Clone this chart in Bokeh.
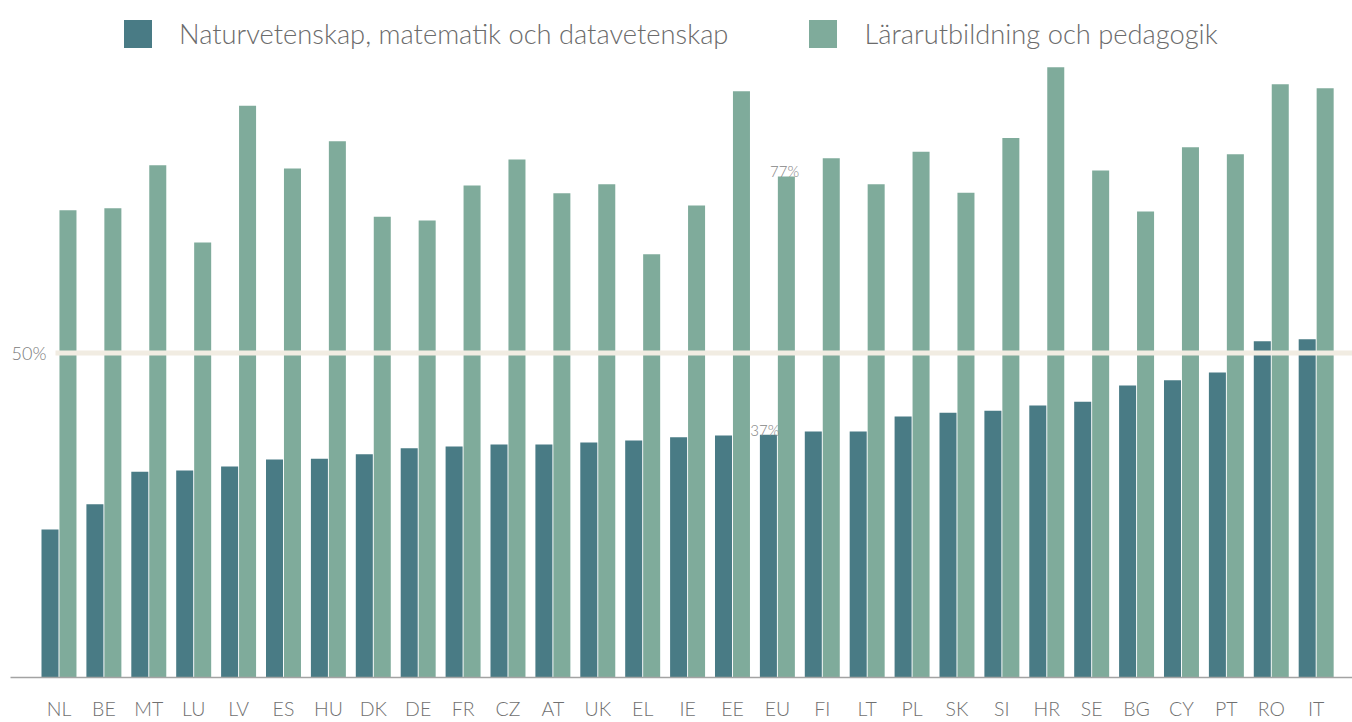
from bokeh.plotting import figure
from bokeh.models import ColumnDataSource, FixedTicker, Legend, LegendItem
from bokeh.core.properties import value
from bokeh.transform import dodge
from bokeh.embed import file_html
from bokeh.resources import INLINE

# ---- data ----
countries = ["NL", "BE", "MT", "LU", "LV", "ES", "HU", "DK", "DE", "FR", "CZ", "AT", "UK", "EL", "IE",
             "EE", "EU", "FI", "LT", "PL", "SK", "SI", "HR", "SE", "BG", "CY", "PT", "RO", "IT"]
science = [22.8, 26.7, 31.7, 31.9, 32.5, 33.6, 33.7, 34.4, 35.3, 35.6, 35.9, 35.9, 36.2, 36.5, 37.0,
           37.3, 37.4, 37.9, 37.9, 40.2, 40.8, 41.1, 41.9, 42.5, 45.0, 45.8, 47.0, 51.8, 52.1]
teacher = [72.0, 72.3, 78.9, 67.0, 88.1, 78.4, 82.6, 71.0, 70.4, 75.8, 79.8, 74.6, 76.0, 65.2, 72.7,
           90.3, 77.2, 80.0, 76.0, 81.0, 74.7, 83.1, 94.0, 78.1, 71.8, 81.7, 80.6, 91.4, 90.8]
series_names = ["Naturvetenskap, matematik och datavetenskap", "Lärarutbildning och pedagogik"]
reference_level = 50
reference_label = "50%"
highlight = "EU"

DARK = "#497b85"
LIGHT = "#7fab9b"
FONT = "Lato Light"

xs = list(range(len(countries)))
src = ColumnDataSource(dict(x=xs, science=science, teacher=teacher, country=countries))

x_start, x_end = -1.080, 28.809
p = figure(width=1352, height=722, output_backend="svg", toolbar_location=None,
           x_range=(x_start, x_end), y_range=(0, 104.3), y_axis_location=None,
           min_border_left=10, min_border_right=0, min_border_top=0, min_border_bottom=45)
p.outline_line_color = None
p.grid.visible = False
p.background_fill_color = "white"

bw = 0.379
r1 = p.vbar(x=dodge("x", -0.2, range=p.x_range), top="science", width=bw, source=src,
            fill_color=DARK, line_color=None)
r2 = p.vbar(x=dodge("x", 0.2, range=p.x_range), top="teacher", width=bw, source=src,
            fill_color=LIGHT, line_color=None)

# reference line (over the bars)
px_per_unit = (1352 - 10) / (x_end - x_start)
p.segment(x0=[x_start + 45 / px_per_unit], x1=[x_end], y0=[reference_level], y1=[reference_level],
          line_color="#f1ece2", line_width=5)
p.text(x=[x_start + 36 / px_per_unit], y=[reference_level], text=[reference_label],
       text_align="right", text_baseline="middle", text_color="#7a7a7a",
       text_font=value(FONT), text_font_size="18px")

# highlighted value labels
i = countries.index(highlight)
p.text(x=[i - 0.2 - 0.08, i + 0.2 - 0.04], y=[science[i], teacher[i]],
       text=[f"{round(science[i])}%", f"{round(teacher[i])}%"],
       text_align="center", text_baseline="alphabetic", y_offset=-5,
       text_color="#858585", text_font=value(FONT), text_font_size="15px")

# x axis
ax = p.xaxis[0]
ax.ticker = FixedTicker(ticks=xs)
ax.major_label_overrides = {k: c for k, c in zip(xs, countries)}
ax.major_tick_line_color = None
ax.minor_tick_line_color = None
ax.axis_line_color = "#a3a3a3"
ax.axis_line_width = 1.5
ax.major_label_standoff = 13
ax.major_label_text_font = FONT
ax.major_label_text_font_size = "19.5px"
ax.major_label_text_color = "#707070"

legend = Legend(items=[LegendItem(label=series_names[0], renderers=[r1]),
                       LegendItem(label=series_names[1], renderers=[r2])],
                orientation="horizontal", location=(110, 626),
                glyph_width=35, glyph_height=35, label_standoff=24, spacing=77,
                padding=0, margin=0, border_line_color=None, background_fill_alpha=0,
                label_text_font=FONT, label_text_font_size="27.3px", label_text_color="#6b6b6b")
p.add_layout(legend)

open("out.html", "w").write(file_html(p, INLINE))
